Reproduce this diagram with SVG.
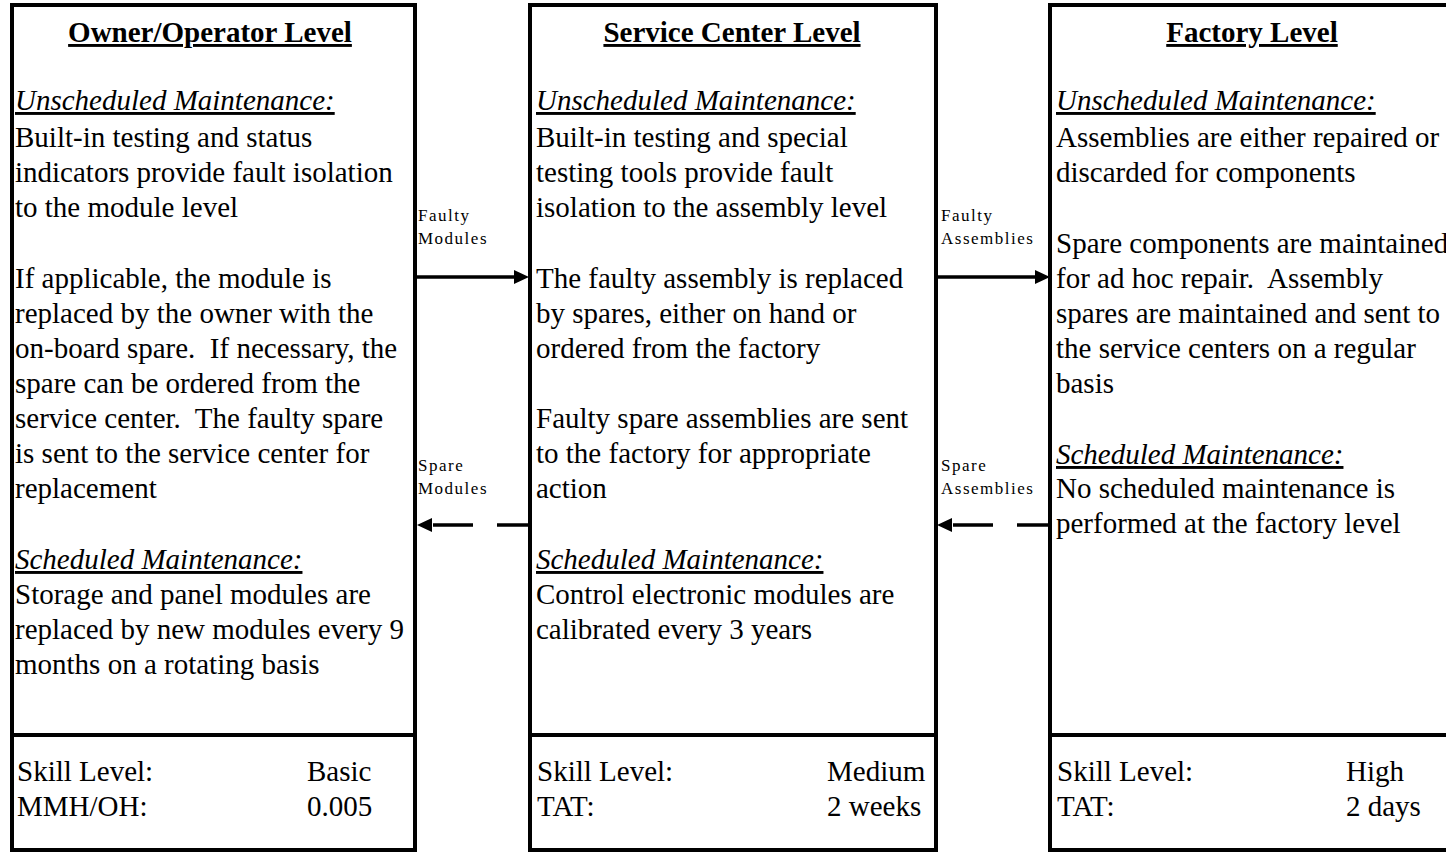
<svg xmlns="http://www.w3.org/2000/svg" width="1446" height="852" viewBox="0 0 1446 852">
  <style>
    text { font-family: "Liberation Serif", "Times New Roman", serif; fill: #000; white-space: pre; }
    .title { font-size: 29px; font-weight: bold; text-anchor: middle; text-decoration: underline; }
    .head { font-size: 29px; font-style: italic; text-decoration: underline; }
    .body { font-size: 29px; }
    .lbl { font-size: 17px; letter-spacing: 1.5px; }
    .box { fill: #fff; stroke: #000; stroke-width: 4; }
    .div { stroke: #000; stroke-width: 4; }
    .flow { stroke: #000; stroke-width: 3.5; fill: none; }
    .ret { stroke: #000; stroke-width: 3.5; fill: none; stroke-dasharray: 31 24 40; }
  </style>
  <defs>
    <marker id="head" markerUnits="userSpaceOnUse" markerWidth="16" markerHeight="16" refX="0" refY="7" orient="auto">
      <path d="M0,0 L15,7 L0,14 z" fill="#000"/>
    </marker>
  </defs>
  <rect width="1446" height="852" fill="#fff"/>

  <!-- Owner/Operator level -->
  <g id="owner">
    <rect class="box" x="12" y="5" width="403" height="845"/>
    <line class="div" x1="12" y1="735" x2="415" y2="735"/>
    <text class="title" x="210" y="42">Owner/Operator Level</text>
    <text class="head" x="15" y="110">Unscheduled Maintenance:</text>
    <text class="body" x="15" y="147">Built-in testing and status</text>
    <text class="body" x="15" y="182">indicators provide fault isolation</text>
    <text class="body" x="15" y="217">to the module level</text>
    <text class="body" x="15" y="288">If applicable, the module is</text>
    <text class="body" x="15" y="323">replaced by the owner with the</text>
    <text class="body" x="15" y="358">on-board spare.  If necessary, the</text>
    <text class="body" x="15" y="393">spare can be ordered from the</text>
    <text class="body" x="15" y="428">service center.  The faulty spare</text>
    <text class="body" x="15" y="463">is sent to the service center for</text>
    <text class="body" x="15" y="498">replacement</text>
    <text class="head" x="15" y="569">Scheduled Maintenance:</text>
    <text class="body" x="15" y="604">Storage and panel modules are</text>
    <text class="body" x="15" y="639">replaced by new modules every 9</text>
    <text class="body" x="15" y="674">months on a rotating basis</text>
    <text class="body" x="17" y="781">Skill Level:</text>
    <text class="body" x="17" y="816">MMH/OH:</text>
    <text class="body" x="307" y="781">Basic</text>
    <text class="body" x="307" y="816">0.005</text>
  </g>

  <!-- Service center level -->
  <g id="service">
    <rect class="box" x="530" y="5" width="406" height="845"/>
    <line class="div" x1="530" y1="735" x2="936" y2="735"/>
    <text class="title" x="732" y="42">Service Center Level</text>
    <text class="head" x="536" y="110">Unscheduled Maintenance:</text>
    <text class="body" x="536" y="147">Built-in testing and special</text>
    <text class="body" x="536" y="182">testing tools provide fault</text>
    <text class="body" x="536" y="217">isolation to the assembly level</text>
    <text class="body" x="536" y="288">The faulty assembly is replaced</text>
    <text class="body" x="536" y="323">by spares, either on hand or</text>
    <text class="body" x="536" y="358">ordered from the factory</text>
    <text class="body" x="536" y="428">Faulty spare assemblies are sent</text>
    <text class="body" x="536" y="463">to the factory for appropriate</text>
    <text class="body" x="536" y="498">action</text>
    <text class="head" x="536" y="569">Scheduled Maintenance:</text>
    <text class="body" x="536" y="604">Control electronic modules are</text>
    <text class="body" x="536" y="639">calibrated every 3 years</text>
    <text class="body" x="537" y="781">Skill Level:</text>
    <text class="body" x="537" y="816">TAT:</text>
    <text class="body" x="827" y="781">Medium</text>
    <text class="body" x="827" y="816">2 weeks</text>
  </g>

  <!-- Factory level -->
  <g id="factory">
    <rect class="box" x="1050" y="5" width="420" height="845"/>
    <line class="div" x1="1050" y1="735" x2="1446" y2="735"/>
    <text class="title" x="1252" y="42">Factory Level</text>
    <text class="head" x="1056" y="110">Unscheduled Maintenance:</text>
    <text class="body" x="1056" y="147">Assemblies are either repaired or</text>
    <text class="body" x="1056" y="182">discarded for components</text>
    <text class="body" x="1056" y="253">Spare components are maintained</text>
    <text class="body" x="1056" y="288">for ad hoc repair.  Assembly</text>
    <text class="body" x="1056" y="323">spares are maintained and sent to</text>
    <text class="body" x="1056" y="358">the service centers on a regular</text>
    <text class="body" x="1056" y="393">basis</text>
    <text class="head" x="1056" y="464">Scheduled Maintenance:</text>
    <text class="body" x="1056" y="498">No scheduled maintenance is</text>
    <text class="body" x="1056" y="533">performed at the factory level</text>
    <text class="body" x="1057" y="781">Skill Level:</text>
    <text class="body" x="1057" y="816">TAT:</text>
    <text class="body" x="1346" y="781">High</text>
    <text class="body" x="1346" y="816">2 days</text>
  </g>

  <!-- Flows between levels -->
  <g id="connectors">
    <line class="flow" x1="417" y1="277" x2="514" y2="277" marker-end="url(#head)"/>
    <line class="ret" x1="528" y1="525" x2="432" y2="525" marker-end="url(#head)"/>
    <line class="flow" x1="938" y1="277" x2="1035" y2="277" marker-end="url(#head)"/>
    <line class="ret" x1="1048" y1="525" x2="952" y2="525" marker-end="url(#head)"/>
    <text class="lbl" x="418" y="221">Faulty</text>
    <text class="lbl" x="418" y="244">Modules</text>
    <text class="lbl" x="418" y="471">Spare</text>
    <text class="lbl" x="418" y="494">Modules</text>
    <text class="lbl" x="941" y="221">Faulty</text>
    <text class="lbl" x="941" y="244">Assemblies</text>
    <text class="lbl" x="941" y="471">Spare</text>
    <text class="lbl" x="941" y="494">Assemblies</text>
  </g>
</svg>
